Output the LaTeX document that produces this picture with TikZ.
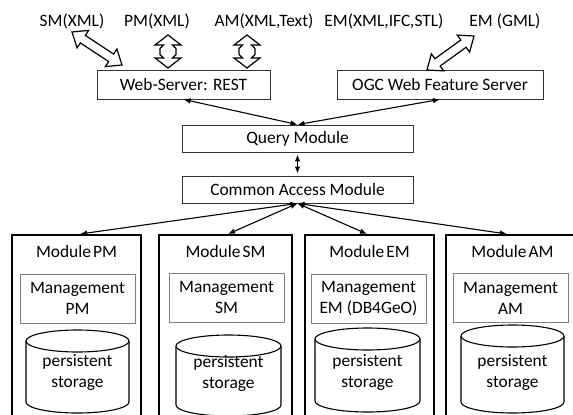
\documentclass[tikz,border=0pt]{standalone}
\usepackage{fontspec}
\setmainfont{Carlito}
\usetikzlibrary{arrows.meta,calc}
% hollow double arrow between two named coordinates
\newcommand\fatarrow[5]{% #1,#2 end coordinates; #3 head length; #4 head half width; #5 shaft half width
  \path let \p1=(#1), \p2=(#2) in \pgfextra{%
    \pgfmathsetmacro\fAang{atan2(\y2-\y1,\x2-\x1)}%
    \pgfmathsetmacro\fAlen{veclen(\x2-\x1,\y2-\y1)}%
    \pgfmathsetmacro\fAb{\fAlen-#3}%
    \global\let\fAangG\fAang \global\let\fAlenG\fAlen \global\let\fAbG\fAb};
  \begin{scope}[shift={(#1)}, rotate=\fAangG]
    \draw[hollow] (0pt,0pt) -- (#3pt,#4pt) -- (#3pt,#5pt) -- (\fAbG pt,#5pt) -- (\fAbG pt,#4pt)
      -- (\fAlenG pt,0pt) -- (\fAbG pt,-#4pt) -- (\fAbG pt,-#5pt) -- (#3pt,-#5pt) -- (#3pt,-#4pt) -- cycle;
  \end{scope}}
% up-down hollow arrow with kinked shaft
\newcommand\notcharrow[2]{%
  \path let \p1=(#1), \p2=(#2) in \pgfextra{%
    \pgfmathsetmacro\fAang{atan2(\y2-\y1,\x2-\x1)}%
    \pgfmathsetmacro\fAlen{veclen(\x2-\x1,\y2-\y1)}%
    \pgfmathsetmacro\fAb{\fAlen-10}%
    \pgfmathsetmacro\fAma{\fAlen/2-3}%
    \pgfmathsetmacro\fAmb{\fAlen/2+3}%
    \global\let\fAangG\fAang \global\let\fAlenG\fAlen \global\let\fAbG\fAb
    \global\let\fAmaG\fAma \global\let\fAmbG\fAmb};
  \begin{scope}[shift={(#1)}, rotate=\fAangG]
    \draw[hollow] (0pt,0pt) -- (10pt,13pt) -- (10pt,4.5pt) -- (\fAmaG pt,8pt) -- (\fAmbG pt,8pt) -- (\fAbG pt,4.5pt) -- (\fAbG pt,13pt)
      -- (\fAlenG pt,0pt) -- (\fAbG pt,-13pt) -- (\fAbG pt,-4.5pt) -- (\fAmbG pt,-8pt) -- (\fAmaG pt,-8pt) -- (10pt,-4.5pt) -- (10pt,-13pt) -- cycle;
  \end{scope}}
% storage cylinder: name, cx, rx, top ellipse centre y, bottom ellipse centre y, text centre y
\newcommand\storagecyl[6]{%
  \draw[cyl] (#2-#3,#4) -- (#2-#3,#5) arc[start angle=180, end angle=360, x radius=#3pt, y radius=11pt] -- (#2+#3,#4);
  \draw[cyl] (#2,#4) ellipse [x radius=#3pt, y radius=11pt];
  \node[align=center] (#1) at (#2,#6) {persistent\\storage};}
\begin{document}
\begin{tikzpicture}[x=1pt,y=-1pt,
  every node/.style={font=\fontsize{17.4}{21}\selectfont, inner sep=0pt, text=black},
  srv/.style={draw=black!80, line width=0.8pt, minimum height=29pt},
  midbox/.style={draw=black!80, line width=0.8pt, minimum width=231pt, minimum height=27pt},
  modbox/.style={draw=black, line width=2pt, minimum height=200pt},
  mgmt/.style={draw=black!50, line width=0.8pt, minimum width=115pt, minimum height=49pt, align=center},
  cyl/.style={draw=black, line width=1.1pt, fill=white},
  conn/.style={line width=1.1pt, {Latex[length=7pt,width=5.5pt]}-{Latex[length=7pt,width=5.5pt]}},
  hollow/.style={draw=black, line width=1.2pt, fill=white, line join=miter},
  lbl/.style={anchor=base}]
\useasboundingbox (0,0) rectangle (573,415);
\clip (0,0) rectangle (573,415);
\fill[white] (0,0) rectangle (573,415);

% top labels
\node[lbl] (tsm) at (72,26) {SM(XML)};
\node[lbl] (tpm) at (157,26) {PM(XML)};
\node[lbl] (tam) at (264,26) {AM(XML,Text)};
\node[lbl] (tem) at (384,26) {EM(XML,IFC,STL)};
\node[lbl] (tgml) at (505,26) {EM (GML)};

% servers
\node[srv, minimum width=173pt] (ws) at (183.5,84.5) {Web-Server: REST};
\node[srv, minimum width=206pt] (ogc) at (440,84.5) {OGC Web Feature Server};

% hollow arrows
\coordinate (hsm1) at (72,32);   \coordinate (hsm2) at (122,65);
\coordinate (hpm1) at (168,35);  \coordinate (hpm2) at (168,68);
\coordinate (ham1) at (247,35);  \coordinate (ham2) at (247,68);
\coordinate (hem1) at (474,36);  \coordinate (hem2) at (427,70);
\fatarrow{hsm1}{hsm2}{13}{10.5}{4.5}
\notcharrow{hpm1}{hpm2}
\notcharrow{ham1}{ham2}
\fatarrow{hem1}{hem2}{13}{10.5}{4.5}

% middle modules
\node[midbox] (qm) at (297.5,138.5) {Query Module};
\node[midbox] (cam) at (297.5,189.5) {Common Access Module};

% lower modules
\node[modbox, minimum width=129pt] (mpm) at (76.5,335) {};
\node[modbox, minimum width=133pt] (msm) at (225.5,335) {};
\node[modbox, minimum width=129pt] (mem) at (369.5,335) {};
\node[modbox, minimum width=133pt] (mam) at (512.5,335) {};

\node (lpm) at (76.5,252) {Module\hspace{0.12em}PM};
\node (lsm) at (225.5,252) {Module\hspace{0.12em}SM};
\node (lem) at (369.5,252) {Module\hspace{0.12em}EM};
\node (lam) at (512.5,252) {Module\hspace{0.12em}AM};

\node[mgmt] (gpm) at (77.5,298.5) {Management\\PM};
\node[mgmt] (gsm) at (226.5,297.5) {Management\\SM};
\node[mgmt] (gem) at (368.5,299) {Management\\EM (DB4GeO)};
\node[mgmt] (gam) at (510.5,298) {Management\\AM};

\storagecyl{spm}{77.5}{51.5}{341}{402}{373}
\storagecyl{ssm}{228.5}{52.5}{346}{405}{374}
\storagecyl{sem}{367.5}{52.5}{339}{401}{373}
\storagecyl{sam}{512.5}{51.5}{336}{402}{373}

% connectors
\draw[conn] (qm.north) -- (ws.south);
\draw[conn] (qm.north) -- (ogc.south);
\draw[conn, shorten <=2pt, shorten >=2pt] (qm.south) -- (cam.north);
\draw[conn] (cam.south) -- ($(mpm.north)+(3.5,0)$);
\draw[conn] (cam.south) -- ($(msm.north)+(2.5,0)$);
\draw[conn] (cam.south) -- ($(mem.north)+(-2.5,0)$);
\draw[conn] (cam.south) -- ($(mam.north)+(-5.5,0)$);
\end{tikzpicture}
\end{document}
